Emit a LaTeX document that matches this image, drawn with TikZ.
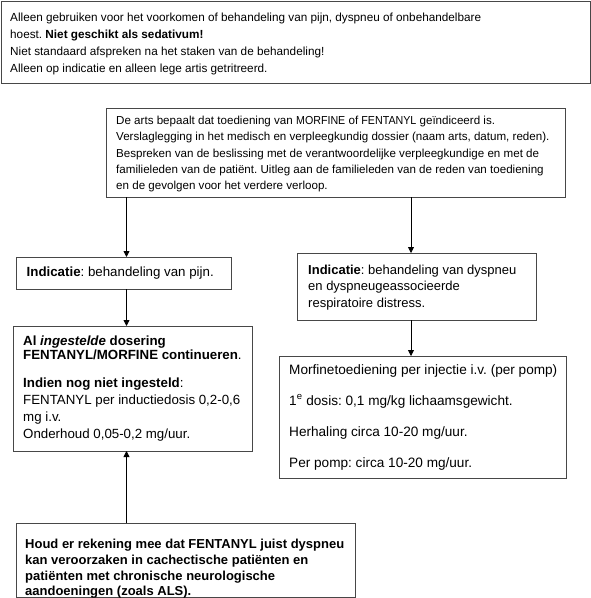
\documentclass[tikz,border=0pt]{standalone}
\usepackage{fontspec}
\usepackage{graphicx}
\setmainfont{Liberation Sans}
\usetikzlibrary{arrows.meta}
\frenchspacing
\newcommand{\narrowcaps}[1]{\scalebox{0.92}[1]{#1}}
\begin{document}
\begin{tikzpicture}[x=1pt,y=-1pt,
  frame/.style={draw=black!72, line width=0.8pt, anchor=north west,
    inner sep=0pt, outer sep=0pt},
  txt/.style={anchor=west, align=left, inner sep=0pt},
  arr/.style={draw=black, line width=0.8pt, -{Triangle[width=6pt,length=6pt]}}]
\useasboundingbox (0,0) rectangle (591,598);
% frames
\node[frame, minimum width=589pt, minimum height=82pt] (b1) at (1,1) {};
\node[frame, minimum width=459pt, minimum height=89pt] (b2) at (106,108) {};
\node[frame, minimum width=215pt, minimum height=32pt] (b3) at (16,257) {};
\node[frame, minimum width=239pt, minimum height=125pt] (b4) at (13,326) {};
\node[frame, minimum width=239pt, minimum height=67pt] (b5) at (297,253) {};
\node[frame, minimum width=287pt, minimum height=122pt] (b6) at (279,356) {};
\node[frame, minimum width=339pt, minimum height=74pt] (b7) at (16,523) {};
% texts
\node[txt, font=\fontsize{11.75}{16.7}\selectfont] (t1) at ([xshift=9pt,yshift=-2pt]b1.west)
 {Alleen gebruiken voor het voorkomen of behandeling van pijn, dyspneu of onbehandelbare\\
  hoest. \textbf{Niet geschikt als sedativum!}\\
  Niet standaard afspreken na het staken van de behandeling!\\
  Alleen op indicatie en alleen lege artis getritreerd.};
\node[txt, font=\fontsize{11.6}{16.1}\selectfont] (t2) at ([xshift=10pt,yshift=-1.5pt]b2.west)
 {De arts bepaalt dat toediening van \narrowcaps{MORFINE} of \narrowcaps{FENTANYL} geïndiceerd is.\\
  Verslaglegging in het medisch en verpleegkundig dossier (naam arts, datum, reden).\\
  Bespreken van de beslissing met de verantwoordelijke verpleegkundige en met de\\
  familieleden van de patiënt. Uitleg aan de familieleden van de reden van toediening\\
  en de gevolgen voor het verdere verloop.};
\node[txt, font=\fontsize{13.3}{16}\selectfont] (t3) at ([xshift=10.5pt]b3.west)
 {\textbf{Indicatie}: behandeling van pijn.};
\node[txt, font=\fontsize{13.3}{16.7}\selectfont] (t4) at ([xshift=10pt]b4.west)
 {\textbf{Al \textit{ingestelde} dosering}\\[-3pt]
  \textbf{FENTANYL/MORFINE continueren}.\\[11.7pt]
  \textbf{Indien nog niet ingesteld}:\\[0.6pt]
  FENTANYL per inductiedosis 0,2-0,6\\
  mg i.v.\\
  Onderhoud 0,05-0,2 mg/uur.};
\node[txt, font=\fontsize{13}{16.3}\selectfont] (t5) at ([xshift=11pt,yshift=-1pt]b5.west)
 {\textbf{Indicatie}: behandeling van dyspneu\\
  en dyspneugeassocieerde\\
  respiratoire distress.};
\node[txt, font=\fontsize{13.6}{31}\selectfont] (t6) at ([xshift=10pt]b6.west)
 {Morfinetoediening per injectie i.v. (per pomp)\\
  1\textsuperscript{e} dosis: 0,1 mg/kg lichaamsgewicht.\\
  Herhaling circa 10-20 mg/uur.\\
  Per pomp: circa 10-20 mg/uur.};
\node[txt, font=\fontsize{13}{15.7}\selectfont\bfseries] (t7) at ([xshift=9pt,yshift=-9pt]b7.west)
 {Houd er rekening mee dat FENTANYL juist dyspneu\\
  kan veroorzaken in cachectische patiënten en\\
  patiënten met chronische neurologische\\
  aandoeningen (zoals ALS).};
% connectors
\coordinate (xl) at (126.5,0);
\coordinate (xr) at (411,0);
\draw[arr] (b2.south -| xl) -- (b3.north -| xl);
\draw[arr] (b2.south -| xr) -- (b5.north -| xr);
\draw[arr] (b3.south -| xl) -- (b4.north -| xl);
\draw[arr] (b5.south -| xr) -- (b6.north -| xr);
\draw[arr] (b7.north -| xl) -- (b4.south -| xl);
\end{tikzpicture}
\end{document}
